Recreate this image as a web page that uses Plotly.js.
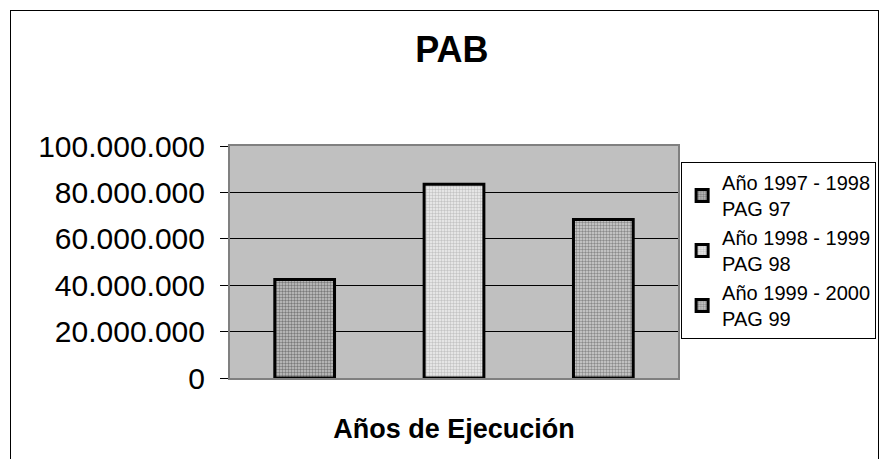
<!DOCTYPE html>
<html>
<head>
<meta charset="utf-8">
<script src="https://cdn.plot.ly/plotly-3.0.1.min.js"></script>
<style>
  html, body { margin: 0; padding: 0; background: #ffffff; }
  #chart { position: absolute; left: 0; top: 0; width: 880px; height: 459px; }
  #frame { position: absolute; left: 10px; top: 10px; width: 869px; height: 470px;
           box-sizing: border-box; border: 1px solid #000; pointer-events: none; z-index: 5; }
</style>
</head>
<body>
<div id="chart"></div>
<div id="frame"></div>
<script>
// Data
const categories = ["Año 1997 - 1998", "Año 1998 - 1999", "Año 1999 - 2000"];
const seriesNames = ["Año 1997 - 1998<br>PAG 97", "Año 1998 - 1999<br>PAG 98", "Año 1999 - 2000<br>PAG 99"];
const values = [42500000, 83500000, 68300000];
const yTickValues = [0, 20000000, 40000000, 60000000, 80000000, 100000000];

const fg = ["#7a7a7a", "#c4c4c4", "#8a8a8a"];
const bg = ["#c8c8c8", "#f0f0f0", "#d4d4d4"];

const FONT = "Arial, 'Liberation Sans', sans-serif";

const traces = categories.map((c, i) => ({
  type: "bar",
  x: [c],
  y: [values[i]],
  name: seriesNames[i],
  legendgroup: "g" + i,
  width: 0.4,
  marker: {
    color: bg[i],
    line: { color: "#000000", width: 3 },
    pattern: { shape: ".", fgcolor: fg[i], bgcolor: bg[i], size: 3, solidity: 0.5 }
  },
  hoverinfo: "skip"
}));

const layout = {
  width: 880,
  height: 459,
  margin: { l: 230, r: 202, t: 146, b: 81, pad: 0 },
  paper_bgcolor: "rgba(0,0,0,0)",
  plot_bgcolor: "#c0c0c0",
  separators: ",.",
  barmode: "overlay",
  font: { family: FONT, color: "#000000" },
  title: {
    text: "<b>PAB</b>",
    font: { family: FONT, size: 36, color: "#000000" },
    xref: "container", x: 0.5136, xanchor: "center",
    yref: "container", y: 0.893, yanchor: "middle"
  },
  xaxis: {
    type: "category",
    categoryorder: "array",
    categoryarray: categories,
    showticklabels: false,
    ticks: "",
    showgrid: false,
    showline: true, linecolor: "#808080", linewidth: 2, mirror: true,
    zeroline: false,
    automargin: false,
    title: { text: "<b>Años de Ejecución</b>", font: { family: FONT, size: 27, color: "#000000" }, standoff: 40 }
  },
  yaxis: {
    range: [0, 100000000],
    tickvals: yTickValues,
    tickformat: ",d",
    tickfont: { family: FONT, size: 30, color: "#000000" },
    ticks: "outside", ticklen: 8, tickwidth: 1, tickcolor: "#000000",
    ticklabelstandoff: 9,
    showgrid: true, gridcolor: "#000000", gridwidth: 1,
    showline: true, linecolor: "#808080", linewidth: 2, mirror: true,
    zeroline: false,
    automargin: false
  },
  showlegend: true,
  legend: {
    xref: "container", x: 0.774, xanchor: "left",
    yref: "container", y: 0.647, yanchor: "top",
    bgcolor: "#ffffff",
    bordercolor: "#000000",
    borderwidth: 1,
    font: { family: FONT, size: 20, color: "#000000" },
    traceorder: "grouped",
    tracegroupgap: 0,
    itemwidth: 30
  }
};

Plotly.newPlot("chart", traces, layout, { staticPlot: true, displayModeBar: false });
</script>
</body>
</html>
